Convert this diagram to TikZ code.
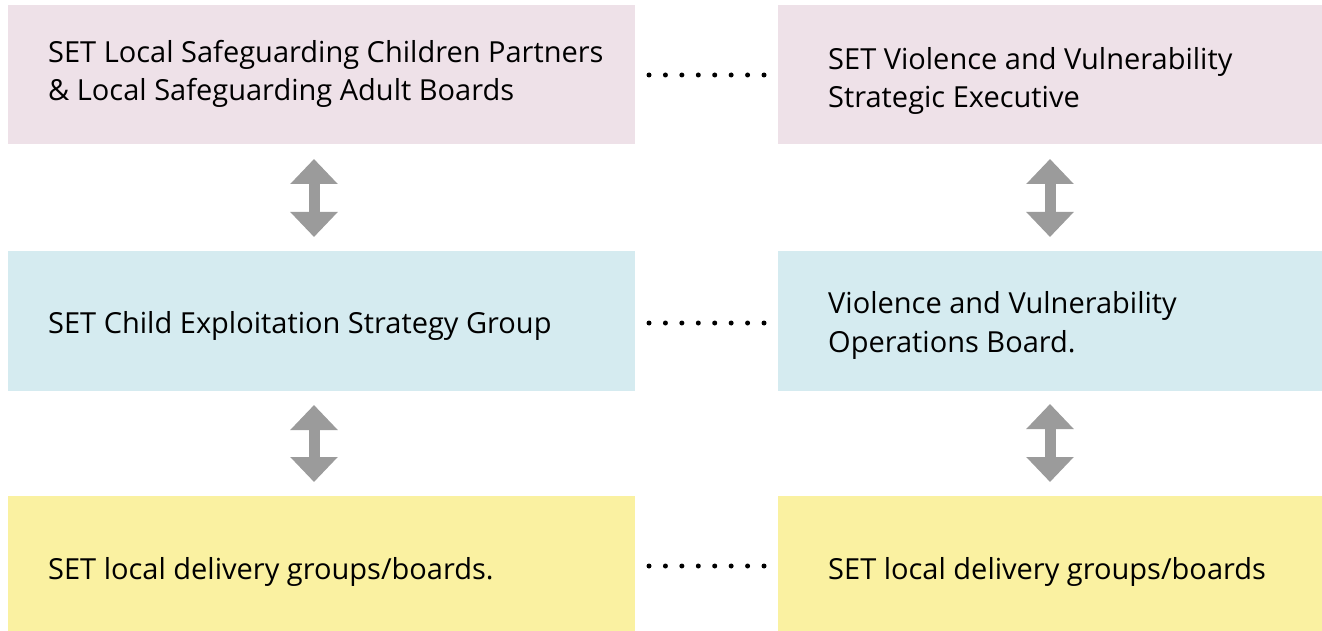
\documentclass[tikz,border=0pt]{standalone}
\usepackage{fontspec}
\setmainfont{Open Sans}
\usetikzlibrary{arrows.meta}
\definecolor{boxpink}{RGB}{238,225,232}
\definecolor{boxblue}{RGB}{213,235,240}
\definecolor{boxyellow}{RGB}{250,241,161}
\definecolor{arrowgray}{RGB}{155,155,155}
\tikzset{
  box/.style={draw=none, inner sep=0pt, outer sep=0pt, rectangle},
  lbl/.style={anchor=base west, inner sep=0pt, font=\fontsize{29}{38}\selectfont, text=black},
  bigarrow/.style={draw=arrowgray, line width=11pt,
    {Triangle[width=46pt,length=25pt]}-{Triangle[width=46pt,length=25pt]}},
  dotline/.style={line width=5pt, line cap=round, dash pattern=on 0pt off 16.43pt}
}
\begin{document}
\begin{tikzpicture}[x=1pt,y=-1pt]
\useasboundingbox (0,0) rectangle (1322,631);
% boxes
\node[box, fill=boxpink, minimum width=627pt, minimum height=139pt, anchor=north west] (tl) at (8,5) {};
\node[box, fill=boxpink, minimum width=544pt, minimum height=139pt, anchor=north west] (tr) at (778,5) {};
\node[box, fill=boxblue, minimum width=627pt, minimum height=140pt, anchor=north west] (ml) at (8,251) {};
\node[box, fill=boxblue, minimum width=544pt, minimum height=140pt, anchor=north west] (mr) at (778,251) {};
\node[box, fill=boxyellow, minimum width=627pt, minimum height=135pt, anchor=north west] (bl) at (8,496) {};
\node[box, fill=boxyellow, minimum width=544pt, minimum height=135pt, anchor=north west] (br) at (778,496) {};
% texts
\node[lbl] (t1a) at (48,63) {SET Local Safeguarding Children Partners};
\node[lbl] (t1b) at (48,101) {\& Local Safeguarding Adult Boards};
\node[lbl] (t2a) at (828,70) {SET Violence and Vulnerability};
\node[lbl] (t2b) at (828,108) {Strategic Executive};
\node[lbl] (t3a) at (48,333) {SET Child Exploitation Strategy Group};
\node[lbl] (t4a) at (828,313) {Violence and Vulnerability};
\node[lbl] (t4b) at (828,352) {Operations Board.};
\node[lbl] (t5a) at (48,579) {SET local delivery groups/boards.};
\node[lbl] (t6a) at (828,579) {SET local delivery groups/boards};
% vertical arrows
\draw[bigarrow] ([xshift=-7.5pt]tl.south) ++(0,15) -- ([xshift=-7.5pt,yshift=14pt]ml.north);
\draw[bigarrow] ([xshift=-7.5pt]ml.south) ++(0,14) -- ([xshift=-7.5pt,yshift=14pt]bl.north);
\draw[bigarrow] ([xshift=-0pt]tr.south) ++(0,15) -- ([xshift=0pt,yshift=14pt]mr.north);
\draw[bigarrow] ([xshift=0pt]mr.south) ++(0,13) -- ([xshift=0pt,yshift=14pt]br.north);
% dotted connectors
\draw[dotline] ([xshift=14pt,yshift=-0.5pt]tl.east) -- ([xshift=-13.9pt,yshift=-0.5pt]tr.west);
\draw[dotline] ([xshift=14pt,yshift=-2pt]ml.east) -- ([xshift=-13.9pt,yshift=-2pt]mr.west);
\draw[dotline] ([xshift=14pt,yshift=-2.5pt]bl.east) -- ([xshift=-13.9pt,yshift=-2.5pt]br.west);
\end{tikzpicture}
\end{document}
